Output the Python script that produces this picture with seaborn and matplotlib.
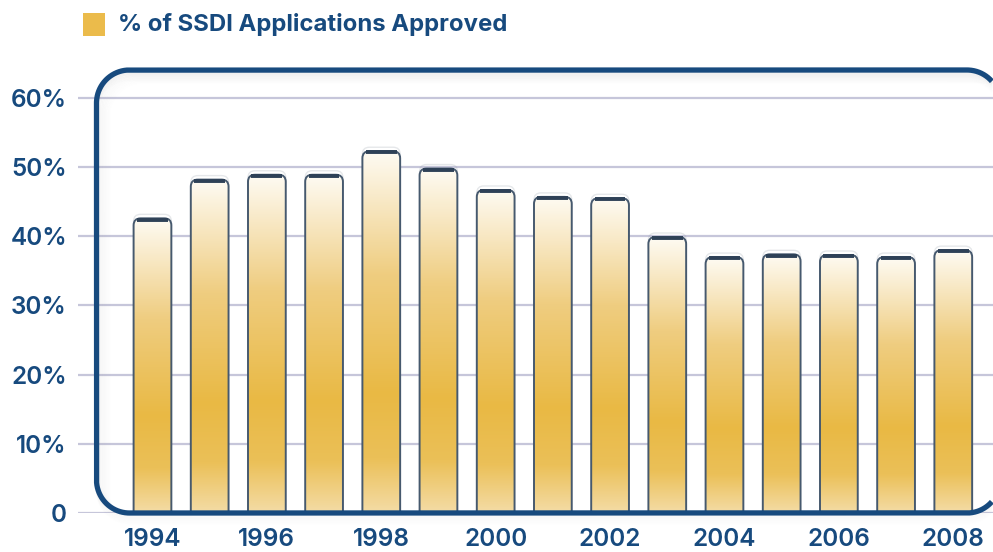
import numpy as np
import seaborn as sns
import matplotlib
matplotlib.use("Agg")
import matplotlib.pyplot as plt
from matplotlib.patches import FancyBboxPatch, Rectangle
from matplotlib.lines import Line2D
from matplotlib.path import Path
from matplotlib.colors import LinearSegmentedColormap

# data
years = [str(y) for y in range(1994, 2009)]
approved = [42.6, 48.2, 48.9, 48.9, 52.3, 49.8, 46.7, 45.7, 45.5, 39.9, 37.0, 37.4, 37.3, 37.0, 38.0]
ytick_vals = [0, 10, 20, 30, 40, 50, 60]
ytick_labels = ["0", "10%", "20%", "30%", "40%", "50%", "60%"]
legend_label = "% of SSDI Applications Approved"

navy = "#174a7e"
gold = "#ebbb4b"


def rounded_rect(x0, y0, x1, y1, r, n=60, xmax=None):
    # polyline of a rounded rectangle, starts and ends on the right edge
    pts = []
    corners = [(x1 - r, y1 - r, 0), (x0 + r, y1 - r, 90),
               (x0 + r, y0 + r, 180), (x1 - r, y0 + r, 270)]
    for cx, cy, a0 in corners:
        t = np.radians(np.linspace(a0, a0 + 90, n))
        pts.append(np.column_stack([cx + r * np.cos(t), cy + r * np.sin(t)]))
    pts = np.vstack(pts)
    if xmax is not None:
        # drop the part that runs off the right side of the canvas
        pts = pts[pts[:, 0] <= xmax]
    return pts


sns.set_style("white")
plt.rcParams["font.family"] = ["Inter", "DejaVu Sans"]

fig = plt.figure(figsize=(9.93, 5.52), dpi=100)
ax = fig.add_axes([78 / 993, 39 / 552, 915 / 993, 445 / 552])

sns.barplot(x=years, y=approved, color=gold, width=0.66, ax=ax)

ax.set_xlim(-1.302, -1.302 + 915 / 57.2)
ax.set_ylim(0, 445 / 6.917)
for s in ax.spines.values():
    s.set_visible(False)

ax.set_yticks(ytick_vals)
ax.set_yticklabels(ytick_labels)
ax.set_xticks(range(len(years)))
ax.set_xticklabels([y if i % 2 == 0 else "" for i, y in enumerate(years)])
ax.tick_params(length=0, labelsize=17.5, labelcolor=navy)
ax.tick_params(axis="y", pad=8)
ax.tick_params(axis="x", pad=11)
for t in ax.get_xticklabels() + ax.get_yticklabels():
    t.set_fontweight("semibold")
ax.set_xlabel("")
ax.set_ylabel("")
ax.yaxis.grid(True, color="#c6c6da", lw=1.6)
ax.xaxis.grid(False)
ax.set_axisbelow(True)

# gradient fill for each bar, rounded top
cmap = LinearSegmentedColormap.from_list("bar", [
    (0.0, "#f4dca6"), (0.15, "#ebc058"), (0.33, "#e9b944"),
    (0.66, "#efcd80"), (0.86, "#f8e8c4"), (1.0, "#fefbf3")])
grad = np.linspace(1, 0, 256).reshape(-1, 1)

p0 = ax.transData.transform((0, 0))
p1 = ax.transData.transform((1, 1))
sx, sy = p1[0] - p0[0], p1[1] - p0[1]
r_px = 7
rx = r_px / sx
ry = r_px / sy

bars = list(ax.patches)
for b in bars:
    x0, w, h = b.get_x(), b.get_width(), b.get_height()
    b.set_visible(False)
    # faint ghost above the bar
    ghost = FancyBboxPatch((x0, h - 3 * ry + 4 / sy), w, 3 * ry,
                           boxstyle=f"round,pad=0,rounding_size={rx}",
                           mutation_aspect=sx / sy, fc="none",
                           ec="#9aa3ad", lw=1.0, alpha=0.25, zorder=1)
    ax.add_patch(ghost)
    shape = FancyBboxPatch((x0, -2 * ry), w, h + 2 * ry,
                           boxstyle=f"round,pad=0,rounding_size={rx}",
                           mutation_aspect=sx / sy, fc="none",
                           ec="#46596e", lw=1.4, zorder=4)
    ax.add_patch(shape)
    im = ax.imshow(grad, cmap=cmap, vmin=0, vmax=1, extent=(x0, x0 + w, 0, h),
                   aspect="auto", origin="upper", zorder=3, interpolation="bilinear")
    im.set_clip_path(shape)
    ax.plot([x0 + rx * 0.5, x0 + w - rx * 0.5], [h - 1.2 / sy, h - 1.2 / sy],
            color="#2e4157", lw=2.8, solid_capstyle="butt", zorder=5)

ax.set_xlim(-1.302, -1.302 + 915 / 57.2)
ax.set_ylim(0, 445 / 6.917)

# rounded frame with soft shadows, drawn as open lines in inches
tr = fig.dpi_scale_trans
fx0, fy0, fx1, fy1, rr = 0.965, 0.39, 10.0, 4.82, 0.33
xcut = 9.92
clip_path = Path(rounded_rect(fx0, fy0, fx1, fy1, rr), closed=True)
for i in range(1, 12):
    d = 0.012 * i
    v = rounded_rect(fx0 + d, fy0 - d, fx1 + d, fy1 - d, rr, xmax=xcut)
    ln = Line2D(v[:, 0], v[:, 1], transform=tr, color="#8c8c8c", lw=1.2,
                alpha=0.06 * (12 - i) / 11, zorder=9)
    ln.set_clip_path(clip_path, tr)
    fig.lines.append(ln)
for i in range(1, 10):
    d = 0.012 * i
    v = rounded_rect(fx0, fy0 - d, fx1, fy1 - d, rr, xmax=xcut)
    fig.lines.append(Line2D(v[:, 0], v[:, 1], transform=tr, color="#9a9a9a", lw=1.2,
                            alpha=0.05 * (10 - i) / 9, zorder=8))
v = rounded_rect(fx0, fy0, fx1, fy1, rr, xmax=xcut)
fig.lines.append(Line2D(v[:, 0], v[:, 1], transform=tr, color=navy, lw=3.8,
                        solid_capstyle="butt", zorder=10))

# legend swatch and label
fig.patches.append(Rectangle((0.83, (552 - 36) / 100), 0.215, 0.23, transform=tr,
                             fc=gold, ec="none"))
fig.text(118 / 993, 1 - 24 / 552, legend_label, fontsize=17.2, fontweight="bold",
         color=navy, va="center", ha="left")

fig.savefig("out.png", dpi=100, facecolor="white")
